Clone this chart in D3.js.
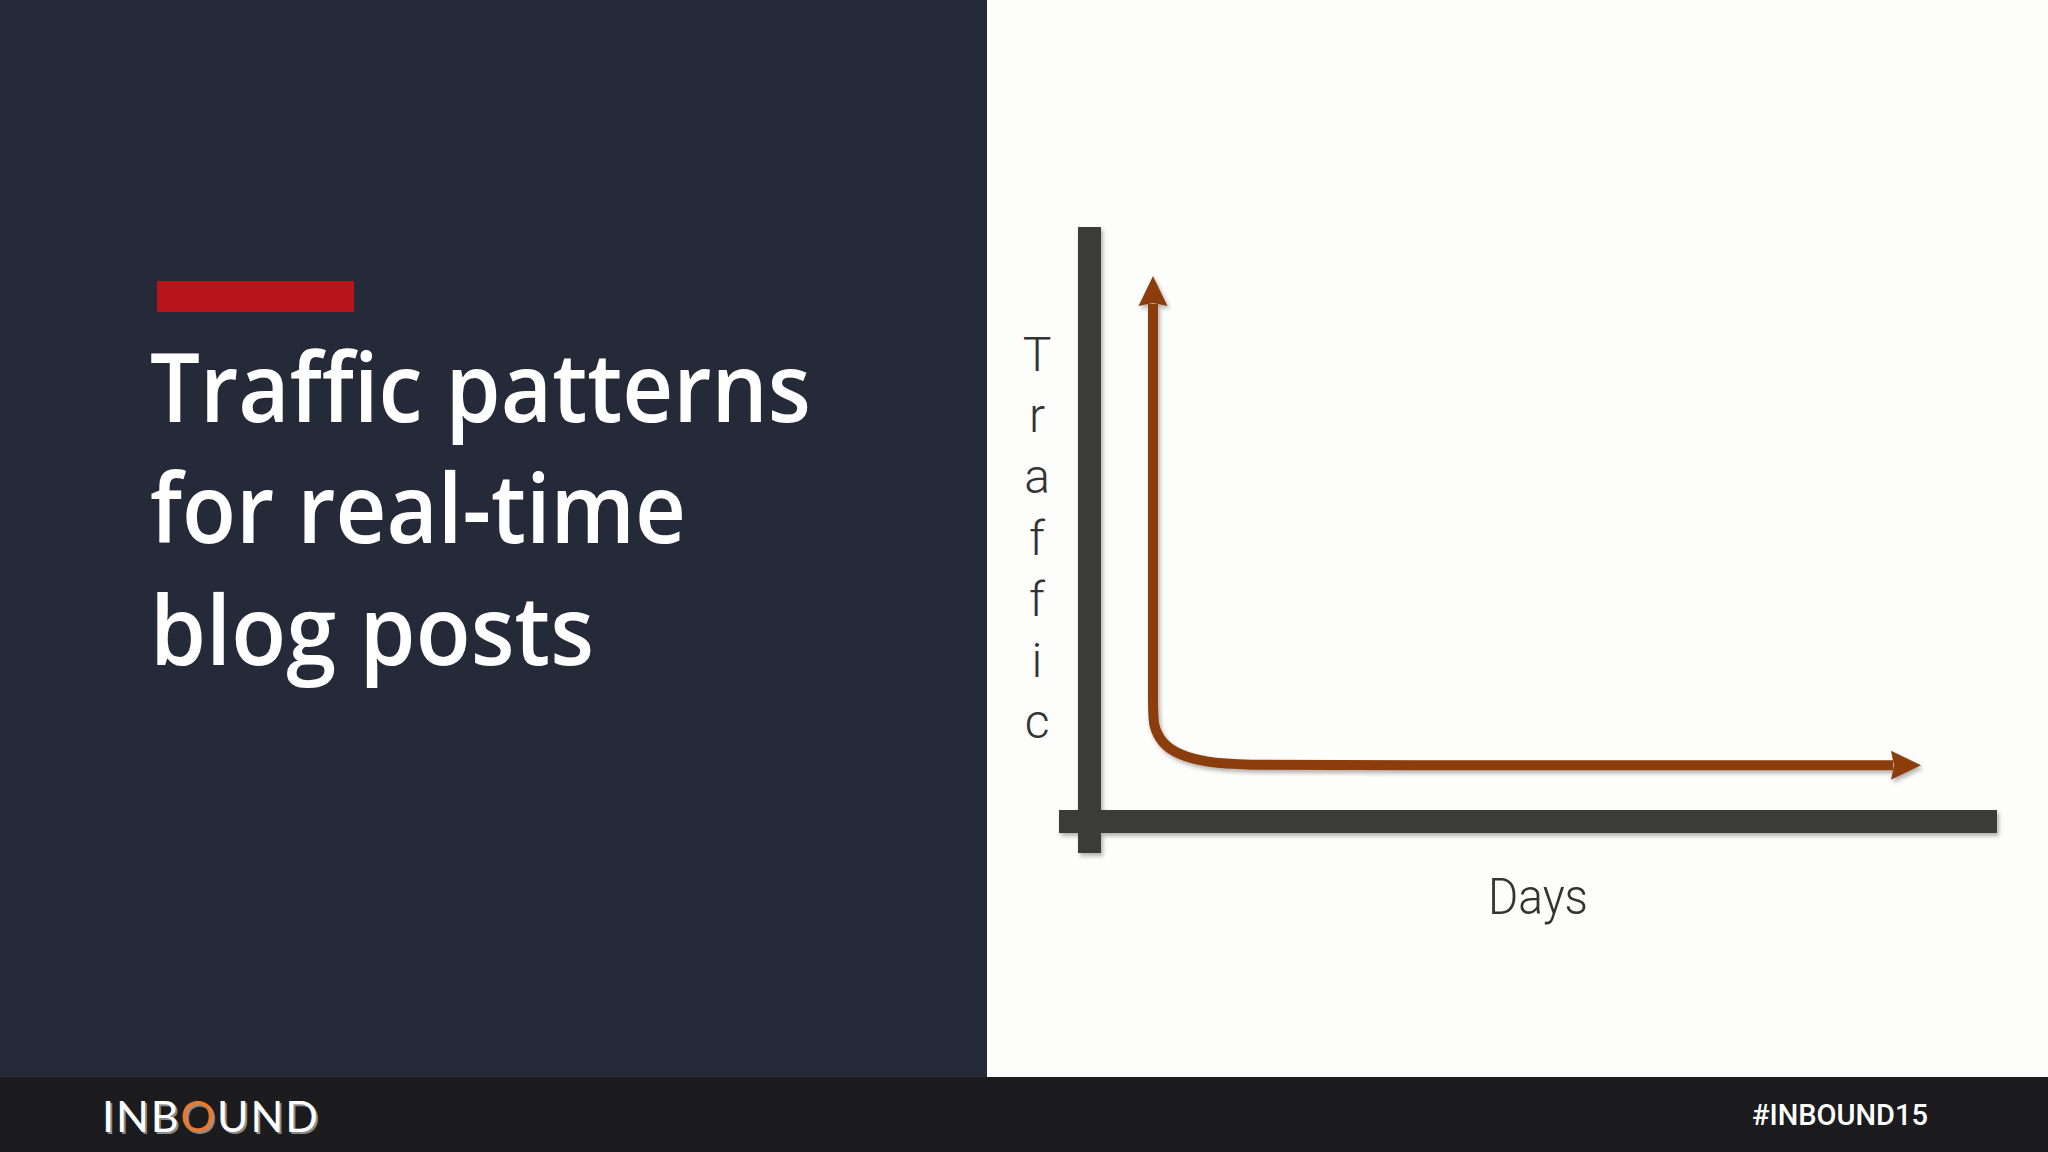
<!DOCTYPE html>
<html>
<head>
<meta charset="utf-8">
<script src="https://cdn.jsdelivr.net/npm/d3@7"></script>
<style>
  html, body { margin: 0; padding: 0; background: #fdfdfb; }
  svg { display: block; }
</style>
</head>
<body>
<script>
// ---- data ----
const titleLines = ["Traffic patterns", "for real-time", "blog posts"];
const xLabel = "Days";
const yLabel = "Traffic";
const days    = [0,   0,  0,  0,    1.2,  3.5,  7,    12,   25,   100];
const traffic = [100, 40, 22, 18.5, 15.0, 12.8, 11.4, 10.8, 10.8, 10.8];
const logoParts = ["INB", "O", "UND"];
const hashtag = "#INBOUND15";

// ---- layout ----
const W = 2048, H = 1152;
const svg = d3.select("body").append("svg").attr("width", W).attr("height", H);
const defs = svg.append("defs");

const shadow = defs.append("filter").attr("id", "shadow")
  .attr("x", "-20%").attr("y", "-20%").attr("width", "140%").attr("height", "140%");
shadow.append("feDropShadow").attr("dx", 2).attr("dy", 3).attr("stdDeviation", 2.2)
  .attr("flood-color", "#000").attr("flood-opacity", 0.3);

const curveColor = "#8c3c0c";
defs.append("marker").attr("id", "arrow")
  .attr("markerUnits", "userSpaceOnUse")
  .attr("markerWidth", 40).attr("markerHeight", 40)
  .attr("refX", 0).attr("refY", 0)
  .attr("viewBox", "-5 -20 40 40")
  .attr("orient", "auto-start-reverse")
  .style("overflow", "visible")
  .append("path").attr("d", "M-2,-14.5 L28,0 L-2,14.5 L1,0 Z").attr("fill", curveColor);

// backgrounds
svg.append("rect").attr("x", 0).attr("y", 0).attr("width", W).attr("height", H).attr("fill", "#fdfdfb");
svg.append("rect").attr("x", 0).attr("y", 0).attr("width", 987).attr("height", 1077).attr("fill", "#252a38");
svg.append("rect").attr("x", 0).attr("y", 1077).attr("width", W).attr("height", H - 1077).attr("fill", "#1c1b1e");

// red accent bar
svg.append("rect").attr("x", 157).attr("y", 281).attr("width", 197).attr("height", 31).attr("fill", "#b8141c");

// title
const titleWidths = [661, 536, 444];
const titleBase = [422, 543, 665];
svg.append("g").selectAll("text").data(titleLines).join("text")
  .attr("x", 150).attr("y", (d, i) => titleBase[i])
  .attr("textLength", (d, i) => titleWidths[i])
  .attr("lengthAdjust", "spacingAndGlyphs")
  .attr("font-family", "'Open Sans', 'Liberation Sans', sans-serif")
  .attr("font-weight", 600).attr("font-size", 96)
  .attr("fill", "#ffffff")
  .text(d => d);

// chart scales
const x = d3.scaleLinear().domain([0, 100]).range([1153, 1893]);
const y = d3.scaleLinear().domain([0, 100]).range([821, 304]);

// axes bars (drawn as thick axis lines)
const axisColor = "#3a3b39";
const axes = svg.append("g").attr("filter", "url(#shadow)");
axes.append("rect").attr("x", 1078).attr("y", 227).attr("width", 23).attr("height", 626).attr("fill", axisColor);
axes.append("rect").attr("x", 1059).attr("y", 810).attr("width", 938).attr("height", 23).attr("fill", axisColor);

// traffic curve
const pts = days.map((d, i) => [d, traffic[i]]);
const line = d3.line().x(d => x(d[0])).y(d => y(d[1])).curve(d3.curveBasis);
svg.append("path").datum(pts)
  .attr("d", line)
  .attr("fill", "none")
  .attr("stroke", curveColor)
  .attr("stroke-width", 10)
  .attr("stroke-linejoin", "round")
  .attr("marker-start", "url(#arrow)")
  .attr("marker-end", "url(#arrow)")
  .attr("filter", "url(#shadow)");

// axis labels
const labelFont = "Roboto, 'Liberation Sans', sans-serif";
svg.append("g").selectAll("text").data(yLabel.split("")).join("text")
  .attr("x", 1037).attr("y", (d, i) => 371 + i * 61.2)
  .attr("text-anchor", "middle")
  .attr("font-family", labelFont).attr("font-weight", 300).attr("font-size", 48)
  .attr("fill", "#333333")
  .text(d => d);

svg.append("text").attr("x", 1488).attr("y", 914)
  .attr("textLength", 100).attr("lengthAdjust", "spacingAndGlyphs")
  .attr("font-family", labelFont).attr("font-weight", 300).attr("font-size", 50)
  .attr("fill", "#333333").text(xLabel);

// footer logo
function logo(g, dx, dy, fill, oFill) {
  const t = g.append("text").attr("x", 102 + dx).attr("y", 1132 + dy)
    .attr("textLength", 216).attr("lengthAdjust", "spacing")
    .attr("font-family", "Lato, 'Open Sans', sans-serif").attr("font-weight", 400)
    .attr("font-size", 43);
  t.selectAll("tspan").data(logoParts).join("tspan")
    .attr("fill", (d, i) => i === 1 ? oFill : fill)
    .text(d => d);
}
const lg = svg.append("g");
logo(lg, 2, 2, "#8a8a8a", "#8a8a8a");
logo(lg, 0, 0, "#ffffff", "#ea7a2a");

svg.append("text").attr("x", 1752).attr("y", 1125)
  .attr("textLength", 176).attr("lengthAdjust", "spacingAndGlyphs")
  .attr("font-family", "Roboto, 'Liberation Sans', sans-serif").attr("font-weight", 500)
  .attr("font-size", 29).attr("fill", "#ffffff").text(hashtag);
</script>
</body>
</html>
